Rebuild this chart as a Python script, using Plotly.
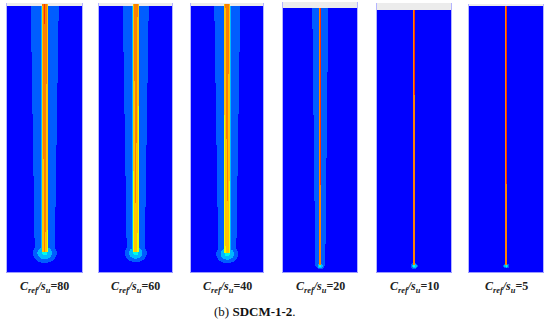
import numpy as np
import plotly.graph_objects as go

# ---- data ----
ratios = [80, 60, 40, 20, 10, 5]
caption = "(b) <b>SDCM-1-2</b>."
# contour band values (0..12, 12-level spectrum) along the pile
pile_core_top = [11.2, 11.1, 11.0, 11.2, 11.2, 11.2]
pile_core_bot = [10.3, 9.9, 9.9, 11.1, 11.1, 11.1]
pile_edge_top = [9.6, 9.3, 9.3, 10.5, 10.5, 10.5]
pile_edge_bot = [8.8, 8.2, 8.3, 10.5, 10.5, 10.5]
pile_halfwidth = [3.0, 3.0, 3.0, 1.2, 1.0, 1.2]
halo_halfwidth_top = [14, 13, 13, 8, 0, 0]
halo_halfwidth_bot = [10, 9, 9, 5, 0, 0]
halo_inner = [2.2, 2.2, 2.2, 1.5, 0.5, 0.5]
tip_depth = [247, 247, 248, 258, 256, 260]
bulb_radius = [12, 11, 11, 4, 3.5, 3]
bulb_peak = [3.6, 3.6, 3.6, 3.8, 4.3, 3.8]
pile_above_surface = [2, 2, 2, 0, 0, 0]

# ---- layout geometry (pixels) ----
W, H = 550, 326
panel_x = [(7, 82), (99, 172), (191, 263), (283, 357), (377, 451), (469, 543)]
surface_y = [6, 6, 6, 8, 10, 6]
band_top_y = [3, 3, 3, 2, 3, 4]
bottom_y = 272

spectrum = ["#0000ff", "#005dff", "#00b9ff", "#00ffe8", "#00ff8b", "#00ff2e",
            "#2eff00", "#8bff00", "#e8ff00", "#ffc400", "#ff8000", "#ff3000"]
cs = []
for k, c in enumerate(spectrum):
    cs.append([k / 12, c])
    cs.append([(k + 1) / 12, c])

fig = go.Figure()
for i, r in enumerate(ratios):
    x0, x1 = panel_x[i]
    wp = x1 - x0
    hf = bottom_y - surface_y[i]
    ht = bottom_y - band_top_y[i]
    xs = np.arange(-wp / 2 + 0.25, wp / 2, 0.5)
    ys = np.arange(0.5, ht, 1.0)
    X, Y = np.meshgrid(xs, ys)
    depth = hf - Y
    ax = np.abs(X)
    tip = tip_depth[i]
    frac = np.clip(depth / tip, 0, 1)
    z = np.full(X.shape, 0.5)
    # halo around the pile
    hw = pile_halfwidth[i]
    hwid = halo_halfwidth_top[i] + (halo_halfwidth_bot[i] - halo_halfwidth_top[i]) * frac
    in_halo = (ax < hwid) & (depth <= tip) & (hwid > 0)
    zh = np.where(ax < hw + 0.5, halo_inner[i], 1.5)
    z = np.where(in_halo, zh, z)
    # bulb at the pile tip
    rr = np.sqrt(X ** 2 + ((depth - tip) * 1.2) ** 2)
    R = bulb_radius[i]
    zb = 1.0 + (bulb_peak[i] - 1.0) * (1 - rr / R)
    z = np.where(rr < R, np.maximum(z, zb), z)
    # pile
    core = pile_core_top[i] + (pile_core_bot[i] - pile_core_top[i]) * frac
    edge = pile_edge_top[i] + (pile_edge_bot[i] - pile_edge_top[i]) * frac
    in_pile = (ax < hw) & (depth <= tip - 1) & (depth >= -pile_above_surface[i])
    z = np.where(in_pile, edge + (core - edge) * (1 - ax / hw), z)
    # above ground surface: transparent, except pile head
    z = np.where((depth < 0) & ~in_pile, np.nan, z)

    n = "" if i == 0 else str(i + 1)
    fig.add_trace(go.Heatmap(x=xs, y=ys, z=z, colorscale=cs, zmin=0, zmax=12,
                             showscale=False, xaxis="x" + n, yaxis="y" + n,
                             hoverinfo="skip"))
    fig.update_layout({
        "xaxis" + n: dict(domain=[x0 / W, x1 / W], range=[-wp / 2, wp / 2],
                          showgrid=False, zeroline=False, showticklabels=False,
                          ticks="", showline=True, linecolor="#9a9aff", linewidth=1,
                          anchor="y" + n, fixedrange=True),
        "yaxis" + n: dict(domain=[(H - bottom_y) / H, (H - band_top_y[i]) / H],
                          range=[0, ht], showgrid=False, zeroline=False,
                          showticklabels=False, ticks="", showline=True,
                          linecolor="#b4b4ff", linewidth=1, mirror=True,
                          anchor="x" + n, fixedrange=True),
    })
    fig.add_annotation(
        x=(x0 + x1) / 2 / W, y=(H - 287) / H, xref="paper", yref="paper",
        text=f"<b><i>C</i><sub><i>ref</i></sub><i>/s</i><sub><i>u</i></sub>={r}</b>",
        showarrow=False, font=dict(family="Liberation Serif", size=12, color="#222"),
        xanchor="center", yanchor="middle")

fig.add_annotation(x=255 / W, y=(H - 311) / H, xref="paper", yref="paper",
                   text=caption, showarrow=False,
                   font=dict(family="Liberation Serif", size=13, color="#111"),
                   xanchor="center", yanchor="middle")

fig.update_layout(width=W, height=H, margin=dict(l=0, r=0, t=0, b=0),
                  paper_bgcolor="white", plot_bgcolor="#ececec", showlegend=False)
fig.write_html("out.html", config={"displayModeBar": False},
               post_script="document.body.style.margin='0px';document.body.style.overflow='hidden';")
